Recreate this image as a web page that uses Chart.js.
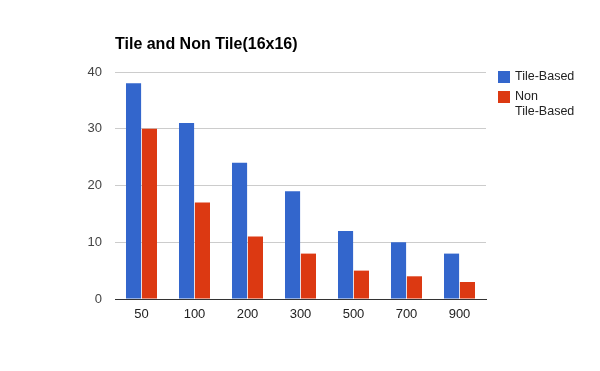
<!DOCTYPE html>
<html>
<head>
<meta charset="utf-8">
<script src="https://cdn.jsdelivr.net/npm/chart.js@4/dist/chart.umd.min.js"></script>
<style>
html,body{margin:0;padding:0;background:#fff;}
#wrap{width:600px;height:371px;position:relative;}
</style>
</head>
<body>
<div id="wrap"><canvas id="c" width="600" height="371"></canvas></div>
<script>
const titleText = "Tile and Non Tile(16x16)";
const categories = ["50", "100", "200", "300", "500", "700", "900"];
const seriesNames = ["Tile-Based", "Non Tile-Based"];
const legendLines = [["Tile-Based"], ["Non", "Tile-Based"]];
const tileBased = [38, 31, 24, 19, 12, 10, 8];
const nonTileBased = [30, 17, 11, 8, 5, 4, 3];
const yTicks = [0, 10, 20, 30, 40];
const colors = ["#3366cc", "#dc3912"];

const FONT = "Liberation Sans, Arial, sans-serif";

const overlay = {
  id: 'overlay',
  afterDraw(chart) {
    const ctx = chart.ctx;
    const area = chart.chartArea;
    ctx.save();
    // title
    ctx.fillStyle = '#000';
    ctx.font = 'bold 16px ' + FONT;
    ctx.textBaseline = 'middle';
    ctx.textAlign = 'left';
    ctx.fillText(titleText, area.left, 45);
    // legend
    ctx.font = '12.5px ' + FONT;
    let y = 77;
    chart.data.datasets.forEach((ds, i) => {
      ctx.fillStyle = ds.backgroundColor;
      ctx.fillRect(498, y - 6, 12, 12);
      ctx.fillStyle = '#222';
      legendLines[i].forEach((line, j) => {
        ctx.fillText(line, 515, y + j * 15);
      });
      y += 20;
    });
    ctx.restore();
  }
};

new Chart(document.getElementById('c'), {
  type: 'bar',
  data: {
    labels: categories,
    datasets: [
      { label: seriesNames[0], data: tileBased, backgroundColor: colors[0] },
      { label: seriesNames[1], data: nonTileBased, backgroundColor: colors[1] }
    ]
  },
  options: {
    responsive: false,
    animation: false,
    devicePixelRatio: 1,
    layout: { padding: { left: 0, right: 114, top: 72, bottom: 0 } },
    datasets: { bar: { categoryPercentage: 0.6, barPercentage: 0.95 } },
    plugins: { legend: { display: false }, title: { display: false }, tooltip: { enabled: false } },
    scales: {
      x: {
        grid: { display: false, drawTicks: false },
        border: { display: true, color: '#333', width: 1 },
        ticks: { color: '#222', font: { family: FONT, size: 13 }, padding: 8 },
        afterFit(s) { s.height = 72; }
      },
      y: {
        min: 0, max: 40,
        afterBuildTicks(s) { s.ticks = yTicks.map(v => ({ value: v })); },
        grid: { color: '#cccccc', drawTicks: false },
        border: { display: false },
        ticks: { color: '#444', font: { family: FONT, size: 13 }, padding: 13 },
        afterFit(s) { s.width = 115; }
      }
    }
  },
  plugins: [overlay]
});
</script>
</body>
</html>
